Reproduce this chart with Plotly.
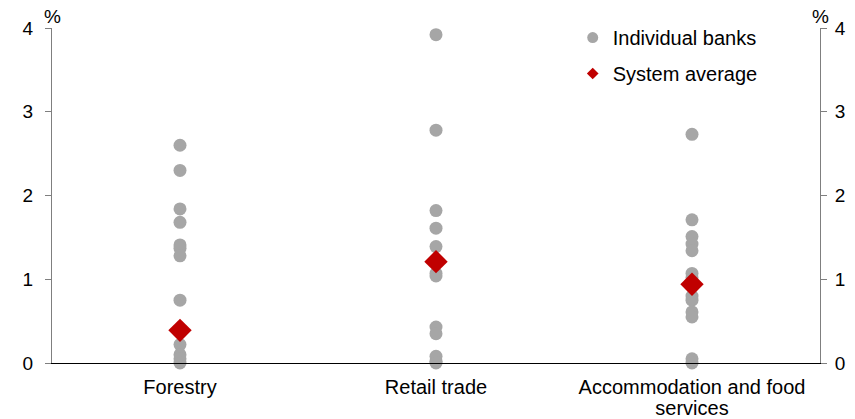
import plotly.graph_objects as go

categories = ["Forestry", "Retail trade", "Accommodation and food services"]
category_labels = ["Forestry", "Retail trade", "Accommodation and food<br>services"]
forestry_banks = [2.6, 2.3, 1.84, 1.68, 1.41, 1.37, 1.28, 0.75, 0.22, 0.1, 0.05, 0.0]
retail_banks = [3.92, 2.78, 1.82, 1.61, 1.39, 1.07, 1.04, 0.43, 0.35, 0.08, 0.02, 0.0]
accom_banks = [2.73, 1.71, 1.51, 1.42, 1.34, 1.07, 1.02, 0.8, 0.75, 0.61, 0.55, 0.05, 0.0]
system_average = [0.39, 1.21, 0.94]
y_ticks = [0, 1, 2, 3, 4]

GREY = "#A6A6A6"
RED = "#C00000"
FONT = "Liberation Sans, Arial, sans-serif"

bank_x, bank_y = [], []
for cat, vals in zip(categories, [forestry_banks, retail_banks, accom_banks]):
    bank_x += [cat] * len(vals)
    bank_y += vals

fig = go.Figure()
fig.add_trace(go.Scatter(x=bank_x, y=bank_y, mode="markers",
                         marker=dict(color=GREY, size=13, line=dict(width=0)),
                         cliponaxis=False, showlegend=False, name="Individual banks"))
fig.add_trace(go.Scatter(x=categories, y=system_average, mode="markers",
                         marker=dict(color=RED, size=18, symbol="diamond", line=dict(width=0)),
                         cliponaxis=False, showlegend=False, name="System average"))
# legend entries (small markers) on secondary axis
fig.add_trace(go.Scatter(x=[None], y=[None], mode="markers", name="Individual banks",
                         marker=dict(color=GREY, size=11), yaxis="y2", legendgroup="a"))
fig.add_trace(go.Scatter(x=[None], y=[None], mode="markers", name="System average",
                         marker=dict(color=RED, size=9, symbol="diamond"), yaxis="y2", legendgroup="b"))

axis_common = dict(range=[0, 4], tickvals=y_ticks, showgrid=False, zeroline=False,
                   showline=True, linecolor="#7F7F7F", linewidth=1,
                   ticks="outside", ticklen=6, tickcolor="#7F7F7F",
                   automargin=False,
                   tickfont=dict(family=FONT, size=19, color="#000000"))

fig.update_layout(
    width=855, height=419,
    margin=dict(l=52, r=35, t=28, b=56, autoexpand=False),
    paper_bgcolor="white", plot_bgcolor="white",
    font=dict(family=FONT, color="#000000"),
    xaxis=dict(type="category", categoryorder="array", categoryarray=categories,
               tickvals=categories,
               ticktext=[f"<span style='font-size:20px'>{t.replace('<br>', '</span><br><span style=\"font-size:20px\">')}</span>"
                         for t in category_labels],
               range=[-0.5, 2.5], showgrid=False, zeroline=False, automargin=False,
               showline=True, linecolor="#000000", linewidth=1, ticks="",
               ticklabelstandoff=11,
               tickfont=dict(family=FONT, size=16, color="#000000")),
    yaxis=dict(**axis_common, ticklabelstandoff=8),
    yaxis2=dict(**axis_common, overlaying="y", side="right", ticklabelstandoff=4),
    legend=dict(x=0.678, y=0.957, xref="paper", yref="container",
                xanchor="left", yanchor="top",
                bgcolor="rgba(0,0,0,0)", font=dict(family=FONT, size=20),
                traceorder="grouped", tracegroupgap=7, itemwidth=30),
    annotations=[
        dict(text="%", xref="paper", yref="paper", x=0, y=1, xanchor="center", yanchor="middle",
             yshift=12, showarrow=False, font=dict(family=FONT, size=19)),
        dict(text="%", xref="paper", yref="paper", x=1, y=1, xanchor="center", yanchor="middle",
             yshift=12, showarrow=False, font=dict(family=FONT, size=19)),
    ],
)

fig.write_html("out.html", config=dict(displayModeBar=False),
               post_script="document.body.style.margin='0';document.body.style.overflow='hidden';")
